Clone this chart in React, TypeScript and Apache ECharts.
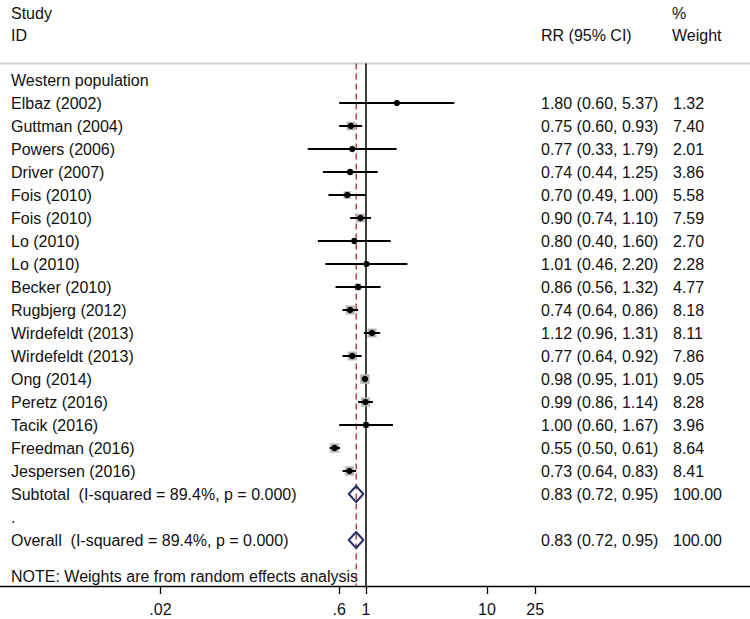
import React, { useEffect, useRef } from 'react';
import * as echarts from 'echarts';

// ---------- data ----------
const groupLabel = 'Western population';
const studyNames = [
  'Elbaz (2002)', 'Guttman (2004)', 'Powers (2006)', 'Driver (2007)', 'Fois (2010)', 'Fois (2010)',
  'Lo (2010)', 'Lo (2010)', 'Becker (2010)', 'Rugbjerg (2012)', 'Wirdefeldt (2013)', 'Wirdefeldt (2013)',
  'Ong (2014)', 'Peretz (2016)', 'Tacik (2016)', 'Freedman (2016)', 'Jespersen (2016)',
];
const studyRR = [1.8, 0.75, 0.77, 0.74, 0.7, 0.9, 0.8, 1.01, 0.86, 0.74, 1.12, 0.77, 0.98, 0.99, 1.0, 0.55, 0.73];
const studyLow = [0.6, 0.6, 0.33, 0.44, 0.49, 0.74, 0.4, 0.46, 0.56, 0.64, 0.96, 0.64, 0.95, 0.86, 0.6, 0.5, 0.64];
const studyHigh = [5.37, 0.93, 1.79, 1.25, 1.0, 1.1, 1.6, 2.2, 1.32, 0.86, 1.31, 0.92, 1.01, 1.14, 1.67, 0.61, 0.83];
const studyWeight = [1.32, 7.4, 2.01, 3.86, 5.58, 7.59, 2.7, 2.28, 4.77, 8.18, 8.11, 7.86, 9.05, 8.28, 3.96, 8.64, 8.41];

const pooledNames = ['Subtotal  (I-squared = 89.4%, p = 0.000)', 'Overall  (I-squared = 89.4%, p = 0.000)'];
const pooledRR = [0.83, 0.83];
const pooledLow = [0.72, 0.72];
const pooledHigh = [0.95, 0.95];
const pooledWeight = [100.0, 100.0];
const separatorLabel = '.';

const overallEffect = 0.83;
const nullEffect = 1;

const tickValues = [0.02, 0.6, 1, 10, 25];
const tickLabels = ['.02', '.6', '1', '10', '25'];

const headerStudy = 'Study';
const headerId = 'ID';
const headerEst = 'RR (95% CI)';
const headerPct = '%';
const headerWeight = 'Weight';
const noteText = 'NOTE: Weights are from random effects analysis';

// ---------- layout ----------
const FONT = '"Liberation Sans", Arial, Helvetica, sans-serif';
const TEXT = '#111';
const W = 750;
const H = 619;
const PX_PER_DECADE = 121;
const NULL_X = 366;
const ROW0_Y = 80;
const ROW_H = 23;
const AXIS_Y = 586;
const TOP_LINE_Y = 63.5;
const NAME_X = 11;
const EST_X = 541;
const WT_X = 673;

const lg = (v: number) => Math.log10(v);
const fmt = (v: number) => v.toFixed(2);

const X_MIN = -NULL_X / PX_PER_DECADE;
const X_MAX = (W - NULL_X) / PX_PER_DECADE;
const Y_MIN = -ROW0_Y / ROW_H;
const Y_MAX = (AXIS_Y - ROW0_Y) / ROW_H;
const TOP_ROW = (TOP_LINE_Y - ROW0_Y) / ROW_H;

const SUBTOTAL_ROW = studyNames.length + 1;
const SEP_ROW = SUBTOTAL_ROW + 1;
const OVERALL_ROW = SEP_ROW + 1;
const pooledRows = [SUBTOTAL_ROW, OVERALL_ROW];

type TextRow = { row: number; name: string; est: string; wt: string };
const textRows: TextRow[] = [
  { row: 0, name: groupLabel, est: '', wt: '' },
  ...studyNames.map((n, i) => ({
    row: i + 1,
    name: n,
    est: `${fmt(studyRR[i])} (${fmt(studyLow[i])}, ${fmt(studyHigh[i])})`,
    wt: fmt(studyWeight[i]),
  })),
  {
    row: SUBTOTAL_ROW,
    name: pooledNames[0],
    est: `${fmt(pooledRR[0])} (${fmt(pooledLow[0])}, ${fmt(pooledHigh[0])})`,
    wt: fmt(pooledWeight[0]),
  },
  { row: SEP_ROW, name: separatorLabel, est: '', wt: '' },
  {
    row: OVERALL_ROW,
    name: pooledNames[1],
    est: `${fmt(pooledRR[1])} (${fmt(pooledLow[1])}, ${fmt(pooledHigh[1])})`,
    wt: fmt(pooledWeight[1]),
  },
];

const labelFor = (v: number) => {
  const i = tickValues.findIndex((t) => Math.abs(lg(t) - v) < 1e-6);
  return i >= 0 ? tickLabels[i] : '';
};

export default function App() {
  const ref = useRef<HTMLDivElement>(null);

  useEffect(() => {
    if (!ref.current) return;
    const chart = echarts.init(ref.current, undefined, { renderer: 'svg' });

    const textEl = (t: string, x: number, y: number) => ({
      type: 'text',
      x,
      y,
      style: {
        text: t,
        fill: TEXT,
        fontSize: 16,
        fontFamily: FONT,
        align: 'left',
        verticalAlign: 'middle',
      },
    });

    const option: any = {
      animation: false,
      grid: { left: 0, right: 0, top: 0, bottom: H - AXIS_Y, containLabel: false },
      xAxis: {
        type: 'value',
        min: X_MIN,
        max: X_MAX,
        axisLine: { show: true, onZero: false, lineStyle: { color: '#000', width: 1.3 } },
        axisTick: {
          show: true,
          length: 8,
          customValues: tickValues.map(lg),
          lineStyle: { color: '#000', width: 1.3 },
        },
        axisLabel: {
          customValues: tickValues.map(lg),
          formatter: (v: number) => labelFor(v),
          fontSize: 16,
          color: TEXT,
          fontFamily: FONT,
          margin: 15,
        },
        splitLine: { show: false },
      },
      yAxis: { type: 'value', inverse: true, min: Y_MIN, max: Y_MAX, show: false },
      graphic: [
        {
          type: 'line',
          shape: { x1: 0, y1: TOP_LINE_Y, x2: W, y2: TOP_LINE_Y },
          style: { stroke: '#cfcfcf', lineWidth: 2 },
        },
        textEl(headerStudy, NAME_X, 13),
        textEl(headerId, NAME_X, 35),
        textEl(headerEst, EST_X, 35),
        textEl(headerPct, WT_X - 1, 13),
        textEl(headerWeight, WT_X - 1, 35),
        textEl(noteText, NAME_X, 576),
      ],
      series: [
        {
          type: 'line',
          data: [[lg(nullEffect), TOP_ROW], [lg(nullEffect), Y_MAX]],
          symbol: 'none',
          silent: true,
          lineStyle: { color: '#000', width: 1.5 },
          z: 1,
        },
        {
          type: 'line',
          data: [[lg(overallEffect), TOP_ROW], [lg(overallEffect), Y_MAX]],
          symbol: 'none',
          silent: true,
          lineStyle: { color: '#a8282c', width: 1.3, type: [6, 4] },
          z: 1,
        },
        {
          type: 'custom',
          z: 3,
          data: studyNames.map((_, i) => [lg(studyRR[i]), i + 1, lg(studyLow[i]), lg(studyHigh[i]), studyWeight[i]]),
          encode: { x: 0, y: 1 },
          renderItem: (params: any, api: any) => {
            const row = api.value(1);
            const [cx, cy] = api.coord([api.value(0), row]);
            const lo = api.coord([api.value(2), row])[0];
            const hi = api.coord([api.value(3), row])[0];
            const side = 3.2 * Math.sqrt(api.value(4));
            return {
              type: 'group',
              children: [
                {
                  type: 'rect',
                  shape: { x: cx - side / 2, y: cy - side / 2, width: side, height: side },
                  style: { fill: '#b8b8b8' },
                },
                {
                  type: 'line',
                  shape: { x1: lo, y1: cy, x2: hi, y2: cy },
                  style: { stroke: '#000', lineWidth: 2 },
                },
                { type: 'circle', shape: { cx, cy, r: 3.2 }, style: { fill: '#000' } },
              ],
            };
          },
        },
        {
          type: 'custom',
          z: 3,
          data: pooledRows.map((r, i) => [lg(pooledRR[i]), r, lg(pooledLow[i]), lg(pooledHigh[i])]),
          encode: { x: 0, y: 1 },
          renderItem: (params: any, api: any) => {
            const row = api.value(1);
            const [cx, cy] = api.coord([api.value(0), row]);
            const lo = api.coord([api.value(2), row])[0];
            const hi = api.coord([api.value(3), row])[0];
            const h = 8;
            return {
              type: 'polygon',
              shape: { points: [[lo, cy], [cx, cy - h], [hi, cy], [cx, cy + h]] },
              style: { fill: 'none', stroke: '#26306b', lineWidth: 2, lineJoin: 'round' },
            };
          },
        },
        {
          type: 'custom',
          z: 4,
          silent: true,
          data: textRows.map((t) => [0, t.row]),
          encode: { x: 0, y: 1 },
          renderItem: (params: any, api: any) => {
            const t = textRows[params.dataIndex];
            const cy = api.coord([0, api.value(1)])[1];
            const children: any[] = [textEl(t.name, NAME_X, cy)];
            if (t.est) children.push(textEl(t.est, EST_X, cy));
            if (t.wt) children.push(textEl(t.wt, WT_X, cy));
            return { type: 'group', children };
          },
        },
      ],
    };

    chart.setOption(option);
    return () => chart.dispose();
  }, []);

  return (
    <div
      ref={ref}
      style={{ position: 'absolute', left: 0, top: 0, width: W, height: H, background: '#fff' }}
    />
  );
}
